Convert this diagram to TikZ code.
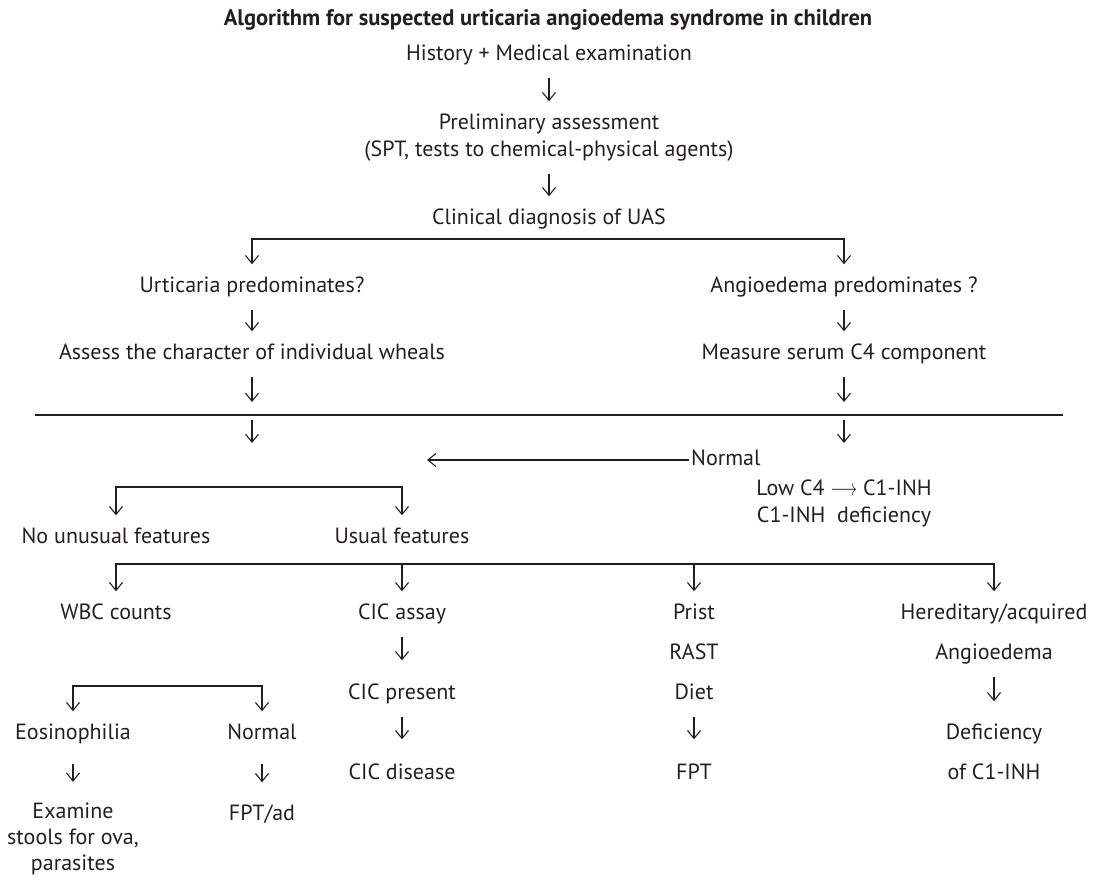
\documentclass[tikz,border=0pt]{standalone}
\usepackage{fontspec}
\setmainfont{PT Sans}
\usetikzlibrary{arrows.meta}
\definecolor{ink}{HTML}{231F20}
\begin{document}
\begin{tikzpicture}[x=1pt, y=-1pt]
        \useasboundingbox (0,0) rectangle (1094,879);
        \tikzstyle{every node}=[font=\fontsize{22}{26}\selectfont, text=ink, inner xsep=2pt, inner ysep=12pt, text height=15.5pt, text depth=5.5pt, yshift=-2pt]
        \tikzstyle{arr}=[draw=ink, line width=1.1pt, -{Straight Barb[length=8pt, width=13pt]}]
        \tikzstyle{fork}=[draw=ink, line width=1.1pt, {Straight Barb[length=8pt, width=13pt]}-{Straight Barb[length=8pt, width=13pt]}]
        \node[font=\bfseries\fontsize{22.5}{27}\selectfont] (title) at (548, 18) {Algorithm for suspected urticaria angioedema syndrome in children};
        \node (hist)    at (549, 53)  {History + Medical examination};
        \node (prelim)  at (549, 122) {Preliminary assessment};
        \node (tests)   at (549, 149) {(SPT, tests to chemical-physical agents)};
        \node (clin)    at (549, 217) {Clinical diagnosis of UAS};
        \node (urt)     at (252, 285) {Urticaria predominates?};
        \node (angp)    at (844, 285) {Angioedema predominates ?};
        \node (assess)  at (252, 352) {Assess the character of individual wheals};
        \node (measure) at (844, 352) {Measure serum C4 component};
        \node[anchor=west] (normA) at (689, 458) {Normal};
        \node (low)     at (844, 488) {Low C4 \scalebox{0.8}[1.1]{$\longrightarrow$} C1-INH};
        \node (defC1)   at (844, 515) {C1-INH\ \ deficiency};
        \node (nounus)  at (116, 536) {No unusual features};
        \node (usual)   at (402, 536) {Usual features};
        \node (wbc)     at (116, 612) {WBC counts};
        \node (cicA)    at (402, 612) {CIC assay};
        \node (prist)   at (694, 612) {Prist};
        \node (hered)   at (994, 612) {Hereditary/acquired};
        \node (rast)    at (694, 652) {RAST};
        \node (angio)   at (994, 652) {Angioedema};
        \node (cicP)    at (402, 692) {CIC present};
        \node (diet)    at (694, 692) {Diet};
        \node (eos)     at (73, 732)  {Eosinophilia};
        \node (normB)   at (262, 732) {Normal};
        \node (defic)   at (994, 732) {Deficiency};
        \node (cicD)    at (402, 772) {CIC disease};
        \node (fpt)     at (694, 772) {FPT};
        \node (ofC1)    at (994, 772) {of C1-INH};
        \node (fptad)   at (262, 813) {FPT/ad};
        \node[align=center, text height=, text depth=] (exam) at (73, 837) {Examine\\stools for ova,\\parasites};
        % split points and free ends
        \coordinate (forkA) at (549, 237);
        \coordinate (barL)  at (35, 413);
        \coordinate (barR)  at (1063, 413);
        \coordinate (inA)   at (252, 400);
        \coordinate (inB)   at (844, 400);
        \coordinate (outA)  at (252, 418);
        \coordinate (endA)  at (252, 441);
        \coordinate (outB)  at (844, 418);
        \coordinate (endB)  at (844, 441);
        \coordinate (normTip) at (427, 458);
        \coordinate (forkB) at (260, 485);
        \coordinate (forkC) at (550, 562);
        \coordinate (forkD) at (168, 684);
        \draw[arr] (hist) -- (prelim);
        \draw[arr] (tests) -- (clin);
        \draw[fork] (urt) |- (forkA) -| (angp);
        \draw[arr] (urt) -- (assess);
        \draw[arr] (angp) -- (measure);
        \draw[arr] (assess) -- (inA);
        \draw[arr] (measure) -- (inB);
        \draw[draw=ink, line width=1.5pt] (barL) -- (barR);
        \draw[arr] (outA) -- (endA);
        \draw[arr] (outB) -- (endB);
        \draw[arr] (normA) -- (normTip);
        \draw[fork] (nounus) |- (forkB) -| (usual);
        \draw[fork] (wbc) |- (forkC) -| (hered);
        \draw[arr] (cicA |- forkC) -- (cicA);
        \draw[arr] (prist |- forkC) -- (prist);
        \draw[arr, shorten >=11pt] (cicA) -- (cicP);
        \draw[arr, shorten >=12pt] (cicP) -- (cicD);
        \draw[arr, shorten >=12pt] (diet) -- (fpt);
        \draw[arr, shorten >=10pt] (angio) -- (defic);
        \draw[fork] (eos) |- (forkD) -| (normB);
        \draw[arr, shorten <=7pt, shorten >=9pt] (eos) -- (exam);
        \draw[arr, shorten <=7pt, shorten >=10pt] (normB) -- (fptad);
    \end{tikzpicture}
\end{document}
